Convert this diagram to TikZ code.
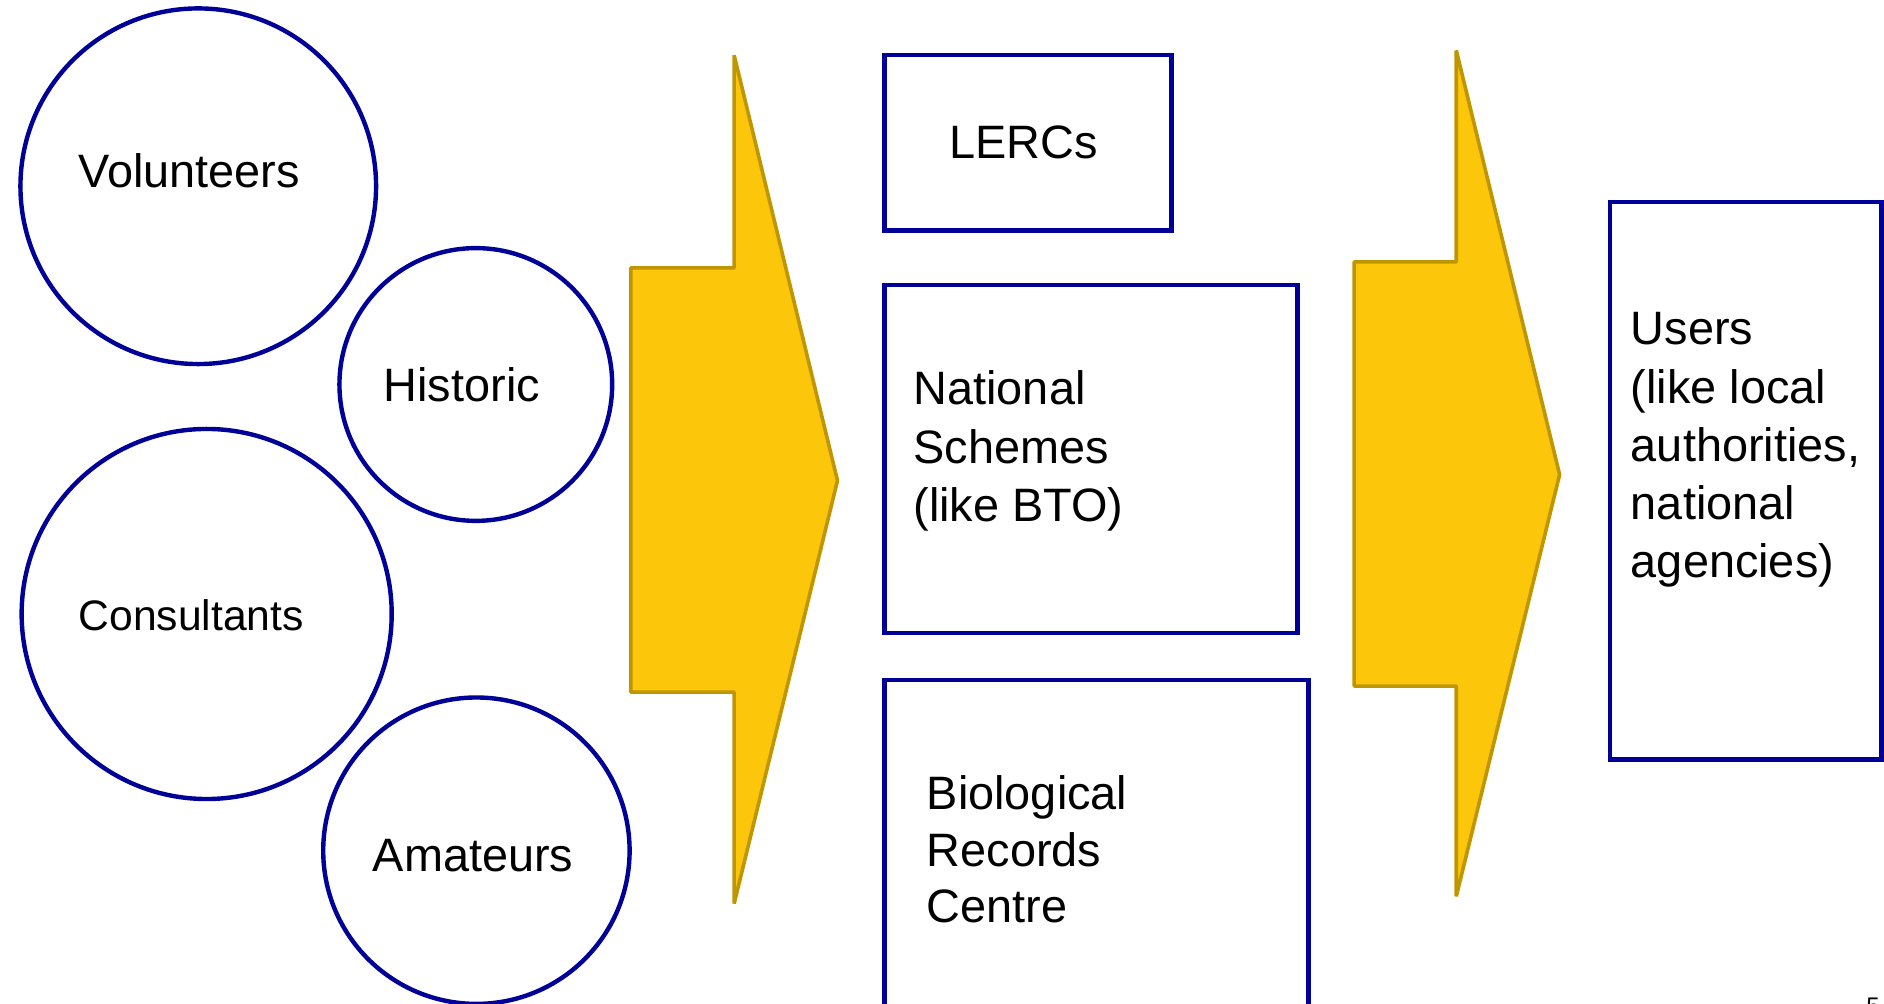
\documentclass[tikz,border=0pt]{standalone}
\usepackage{fontspec}
\setmainfont{Liberation Sans}
\definecolor{navy}{RGB}{0,0,153}
\definecolor{arrfill}{RGB}{252,198,10}
\definecolor{arrline}{RGB}{191,150,0}
\tikzset{
  ring/.style={circle, draw=navy, line width=2.2pt, inner sep=0pt},
  boxnode/.style={rectangle, draw=navy, line width=2.2pt, inner sep=0pt},
  bigarrow/.style={fill=arrfill, draw=arrline, line width=1.8pt, line join=bevel},
  lbl/.style={inner sep=0pt, anchor=base west, align=left, font=\fontsize{23.4}{29.1}\selectfont},
  smalllbl/.style={inner sep=0pt, anchor=base west, font=\fontsize{21.3}{25}\selectfont}
}
\begin{document}
\begin{tikzpicture}[x=0.6pt,y=-0.6pt]
\useasboundingbox (0,0) rectangle (1568,835);
\clip (0,0) rectangle (1568,835);
% circles
\node[ring, minimum size=177.6pt] (cvol) at (165,155) {};
\node[ring, minimum size=136.2pt] (chis) at (396,320) {};
\node[ring, minimum size=184.8pt] (ccon) at (172,511) {};
\node[ring, minimum size=153pt] (cama) at (396.5,708) {};
\node[lbl] (tvol) at (65,156) {Volunteers};
\node[lbl] (this) at (319,334) {Historic};
\node[smalllbl] (tcon) at (65,525) {Consultants};
\node[lbl] (tama) at (310,725) {Amateurs};
% arrows
\draw[bigarrow] (525,223) -- (611,223) -- (611,46) -- (697,400) -- (611,752) -- (611,576) -- (525,576) -- cycle;
\draw[bigarrow] (1127,218) -- (1212,218) -- (1212,42) -- (1298,395) -- (1212,746) -- (1212,571) -- (1127,571) -- cycle;
% boxes
\node[boxnode, minimum width=143.4pt, minimum height=87.6pt] (blerc) at (855.5,119) {};
\node[boxnode, minimum width=206.4pt, minimum height=174pt] (bnat) at (908,382) {};
\node[boxnode, minimum width=211.8pt, minimum height=164.4pt] (bbio) at (912.5,703) {};
\node[boxnode, minimum width=135.6pt, minimum height=278.4pt] (buse) at (1453,400) {};
\node[lbl] (tlerc) at (790,132) {LERCs};
\node[lbl] (tnat) at (760,434) {National\\Schemes\\(like BTO)};
\node[lbl, font=\fontsize{23.4}{28.2}\selectfont] (tbio) at (771,768) {Biological\\Records\\Centre};
\node[lbl] (tuse) at (1357,481) {Users\\(like local\\authorities,\\national\\agencies)};
\node[inner sep=0pt, anchor=north west, font=\fontsize{12}{14}\selectfont] (pnum) at (1553,830) {5};
\end{tikzpicture}
\end{document}
